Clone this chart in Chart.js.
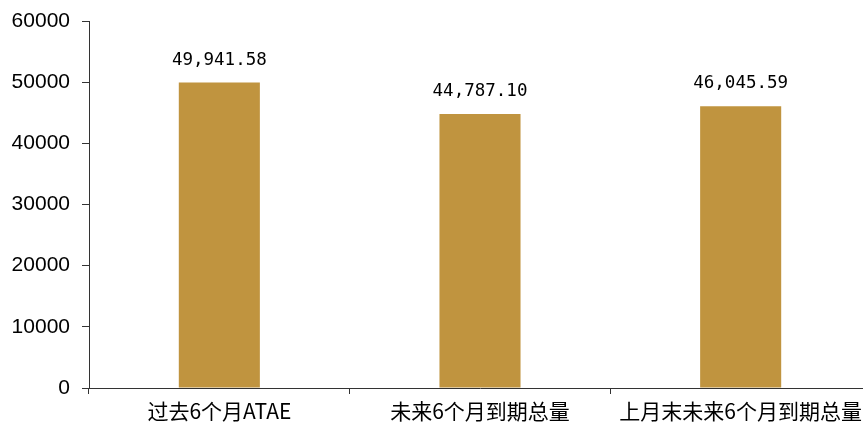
<!DOCTYPE html>
<html>
<head>
<meta charset="utf-8">
<script src="https://cdn.jsdelivr.net/npm/chart.js@4/dist/chart.umd.min.js"></script>
<style>
html,body{margin:0;padding:0;background:#fff;overflow:hidden;}
#wrap{width:871px;height:425px;position:relative;}
</style>
</head>
<body>
<div id="wrap"><canvas id="c"></canvas></div>
<script>
const categories = ["过去6个月ATAE", "未来6个月到期总量", "上月末未来6个月到期总量"];
const values = [49941.58, 44787.10, 46045.59];
const valueLabels = ["49,941.58", "44,787.10", "46,045.59"];
const yTicks = [0, 10000, 20000, 30000, 40000, 50000, 60000];

const labelPlugin = {
  id: 'barLabels',
  afterDatasetsDraw(chart) {
    const ctx = chart.ctx;
    const meta = chart.getDatasetMeta(0);
    ctx.save();
    ctx.font = '17.5px "DejaVu Sans Mono", monospace';
    ctx.fillStyle = '#000';
    ctx.textAlign = 'center';
    ctx.textBaseline = 'alphabetic';
    meta.data.forEach((bar, i) => {
      ctx.fillText(valueLabels[i], bar.x, bar.y - 18);
    });
    ctx.restore();
  }
};

new Chart(document.getElementById('c'), {
  type: 'bar',
  data: {
    labels: categories,
    datasets: [{
      data: values,
      backgroundColor: '#C0943F',
      borderWidth: 0,
      categoryPercentage: 1,
      barPercentage: 0.311
    }]
  },
  options: {
    responsive: true,
    maintainAspectRatio: false,
    animation: false,
    layout: { padding: { top: 21, left: 0, right: 0, bottom: 0 } },
    plugins: { legend: { display: false }, tooltip: { enabled: false } },
    scales: {
      x: {
        grid: { display: true, offset: true, drawOnChartArea: false, tickLength: 6, color: '#333', lineWidth: 1 },
        border: { display: true, color: '#333', width: 1 },
        ticks: { color: '#000', font: { family: '"Noto Sans CJK SC"', size: 21 }, padding: 4, maxRotation: 0, autoSkip: false },
        afterFit(s) { s.height = 37; }
      },
      y: {
        min: 0, max: 60000,
        afterBuildTicks(s) { s.ticks = yTicks.map(v => ({ value: v })); },
        grid: { display: true, drawOnChartArea: false, tickLength: 7, color: '#333', lineWidth: 1 },
        border: { display: true, color: '#333', width: 1 },
        ticks: { color: '#000', font: { family: '"Liberation Sans"', size: 21 }, padding: 12, callback: v => String(v) },
        afterFit(s) { s.width = 89; s.paddingTop = 0; s.paddingBottom = 0; }
      }
    }
  },
  plugins: [labelPlugin]
});
</script>
</body>
</html>
